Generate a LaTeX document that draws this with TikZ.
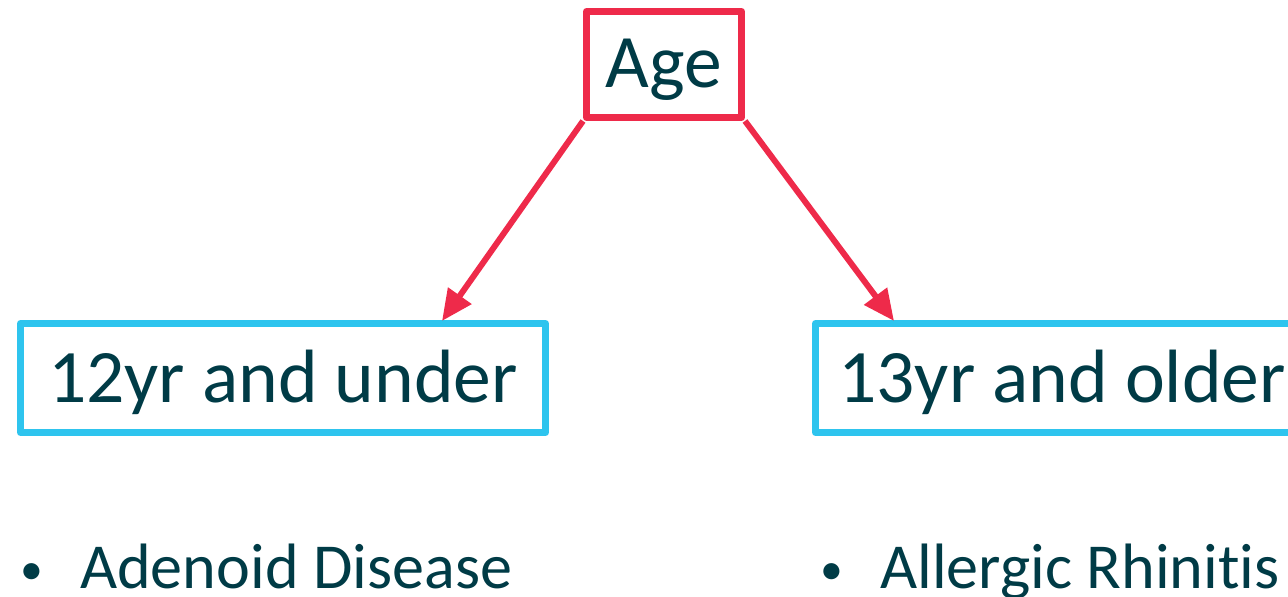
\documentclass[tikz,border=0pt]{standalone}
\usepackage{fontspec}
\setmainfont{Carlito}[Ligatures=NoCommon]
\usetikzlibrary{arrows.meta}
\definecolor{agered}{HTML}{EE2A4A}
\definecolor{groupcyan}{HTML}{2EC4EE}
\definecolor{textteal}{HTML}{003B46}
\begin{document}
\begin{tikzpicture}[x=0.02cm, y=-0.02cm,
	every node/.style={text=textteal, font=\fontsize{43}{50}\selectfont},
	agebox/.style={draw=agered, line width=4pt, line join=round, minimum width=3.1cm, minimum height=2.12cm, inner sep=0pt, text height=0.94cm, text depth=0pt},
	groupbox/.style={draw=groupcyan, line width=4pt, line join=round, minimum width=10.5cm, minimum height=2.18cm, inner sep=0pt, text height=1.0cm, text depth=0pt},
	split/.style={draw=agered, line width=3.4pt, -{Triangle[length=0.62cm, width=0.55cm]}},
	item/.style={anchor=base west, font=\fontsize{36.5}{44}\selectfont}]
	\clip (0,0) rectangle (1288,597);
	\node[agebox] (age) at (664,64.5) {Age};
	\node[groupbox] (under) at (283,378) {12yr and under};
	\node[groupbox] (older) at (1078,378) {\hspace{-0.64cm}13yr and older};
	\coordinate (underin) at (442,321);
	\coordinate (olderin) at (894,321);
	\draw[split] (age.south west) -- (underin);
	\draw[split] (age.south east) -- (olderin);
	\node[item] (adenoid) at (14,588) {\makebox[1.2cm][l]{\raisebox{0.08cm}{\fontsize{26}{26}\selectfont •}}Adenoid Disease};
	\node[item] (allergic) at (814,588) {\makebox[1.2cm][l]{\raisebox{0.08cm}{\fontsize{26}{26}\selectfont •}}Allergic Rhinitis};
\end{tikzpicture}
\end{document}
